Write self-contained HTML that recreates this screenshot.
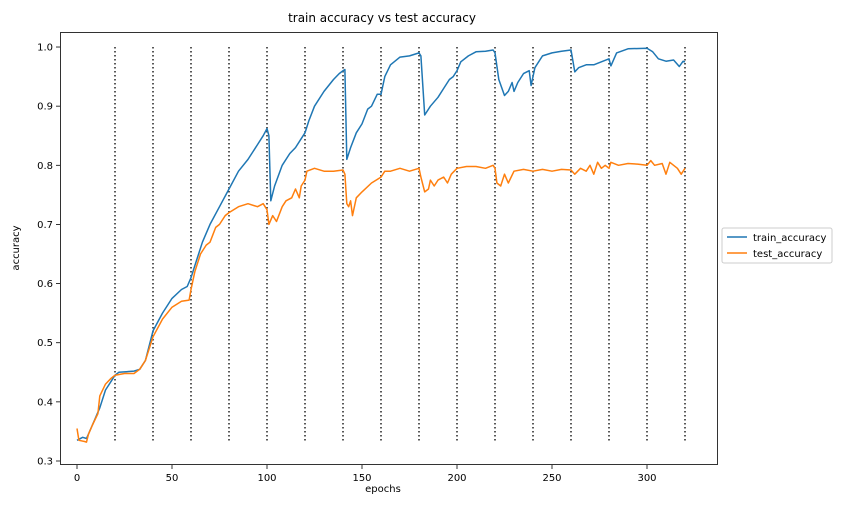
<!DOCTYPE html>
<html><head><meta charset="utf-8"><style>
body{margin:0;background:#fff;font-family:"Liberation Sans","DejaVu Sans",sans-serif}
svg text{font-family:"DejaVu Sans","Liberation Sans",sans-serif;fill:#000}
</style></head><body>
<svg id="chart" width="844" height="512" xmlns="http://www.w3.org/2000/svg">
<text x="382" y="22" font-size="12" text-anchor="middle">train accuracy vs test accuracy</text>
<g id="grid"></g><g id="lines"></g><g id="axes"></g>
<text x="383" y="492" font-size="10" text-anchor="middle">epochs</text>
<text transform="translate(19,248) rotate(-90)" font-size="10" text-anchor="middle">accuracy</text>
<g>
<rect x="722" y="228" width="110" height="35" fill="#fff" stroke="#ccc" rx="2"/>
<line x1="727" y1="237" x2="747" y2="237" stroke="#1f77b4" stroke-width="1.5"/>
<text x="753" y="241" font-size="10">train_accuracy</text>
<line x1="727" y1="253" x2="747" y2="253" stroke="#ff7f0e" stroke-width="1.5"/>
<text x="753" y="257" font-size="10">test_accuracy</text>
</g>
</svg>
<script>
const trainEpochs=[0,3,5,8,12,15,18,20,22,30,33,36,40,45,50,55,58,60,63,66,70,75,80,85,90,95,98,100,101,102,104,108,112,115,118,120,122,125,130,135,138,140,141,142,144,147,150,153,155,158,160,162,165,170,175,180,181,183,186,190,193,196,198,200,202,206,210,215,219,220,222,225,227,229,230,232,235,238,239,241,245,250,255,260,262,264,268,272,276,280,281,284,290,300,303,306,310,314,317,319,320];
const trainValues=[.335,.34,.338,.36,.39,.42,.435,.445,.45,.452,.455,.47,.52,.55,.575,.59,.595,.61,.64,.67,.70,.73,.76,.79,.81,.835,.85,.862,.85,.74,.765,.80,.82,.83,.845,.855,.875,.90,.925,.945,.955,.96,.962,.81,.83,.855,.87,.895,.90,.92,.92,.95,.97,.983,.985,.99,.985,.885,.90,.915,.93,.945,.95,.96,.975,.985,.992,.993,.995,.99,.945,.918,.925,.94,.925,.94,.955,.96,.935,.965,.985,.99,.993,.995,.958,.965,.97,.97,.975,.98,.968,.99,.997,.998,.992,.98,.976,.978,.967,.976,.975];
const testEpochs=[0,1,4,5,6,8,11,12,15,18,20,25,30,33,36,40,45,50,55,59,60,62,65,68,70,73,75,78,80,85,90,95,98,100,101,103,105,108,110,113,115,117,118,120,121,125,130,135,140,141,142,143,144,145,147,150,155,160,162,165,170,175,180,181,183,185,186,188,190,193,195,197,200,205,210,215,219,220,221,223,225,227,230,235,240,245,250,255,260,262,265,268,270,272,274,276,278,280,281,285,290,295,300,302,304,308,310,312,316,318,320];
const testValues=[.355,.335,.333,.332,.345,.36,.38,.41,.43,.44,.445,.448,.448,.455,.47,.51,.54,.56,.57,.572,.59,.62,.65,.665,.67,.695,.70,.715,.72,.73,.735,.73,.735,.725,.70,.715,.705,.73,.74,.745,.76,.745,.765,.775,.79,.795,.79,.79,.792,.785,.735,.73,.74,.715,.745,.755,.77,.78,.79,.79,.795,.79,.795,.78,.755,.76,.775,.765,.775,.78,.77,.785,.795,.798,.798,.795,.8,.795,.77,.765,.785,.77,.79,.793,.79,.793,.79,.793,.792,.785,.795,.79,.8,.785,.805,.795,.8,.795,.805,.8,.803,.802,.8,.808,.8,.803,.785,.805,.795,.785,.795];
const xTicks=[0,50,100,150,200,250,300];
const yTicks=[0.3,0.4,0.5,0.6,0.7,0.8,0.9,1.0];
const vlines=[20,40,60,80,100,120,140,160,180,200,220,240,260,280,300,320];
const X=e=>77+e*1.9, Y=v=>461-(v-0.3)*591.4;
const NS="http://www.w3.org/2000/svg";
function mk(t,a,p){const el=document.createElementNS(NS,t);for(const k in a)el.setAttribute(k,a[k]);p.appendChild(el);return el;}
const grid=document.getElementById('grid'),lines=document.getElementById('lines'),axes=document.getElementById('axes');
vlines.forEach(e=>{const l=mk('line',{x1:X(e),x2:X(e),y1:47,y2:443,stroke:'#222','stroke-width':1.5,'stroke-dasharray':'1.5,2.5'},grid);

});
function path(ex,vs,c,n){const d=ex.map((e,i)=>(i?'L':'M')+X(e).toFixed(1)+','+Y(vs[i]).toFixed(1)).join('');
const p=mk('path',{d:d,fill:'none',stroke:c,'stroke-width':1.5,'stroke-linejoin':'round'},lines);

}
path(trainEpochs,trainValues,'#1f77b4','train-accuracy-line');
path(testEpochs,testValues,'#ff7f0e','test-accuracy-line');
const fr=mk('rect',{x:60.5,y:32.5,width:657,height:432,fill:'none',stroke:'#000','stroke-width':0.8},axes);


xTicks.forEach(t=>{mk('line',{x1:X(t),x2:X(t),y1:465,y2:469,stroke:'#000','stroke-width':0.8},axes);
const tx=mk('text',{x:X(t),y:481,'font-size':10,'text-anchor':'middle'},axes);tx.textContent=t;

});
yTicks.forEach(t=>{mk('line',{x1:56,x2:60,y1:Y(t),y2:Y(t),stroke:'#000','stroke-width':0.8},axes);
const tx=mk('text',{x:53,y:Y(t)+3.5,'font-size':10,'text-anchor':'end'},axes);tx.textContent=t.toFixed(1);

});
</script>
</body></html>
